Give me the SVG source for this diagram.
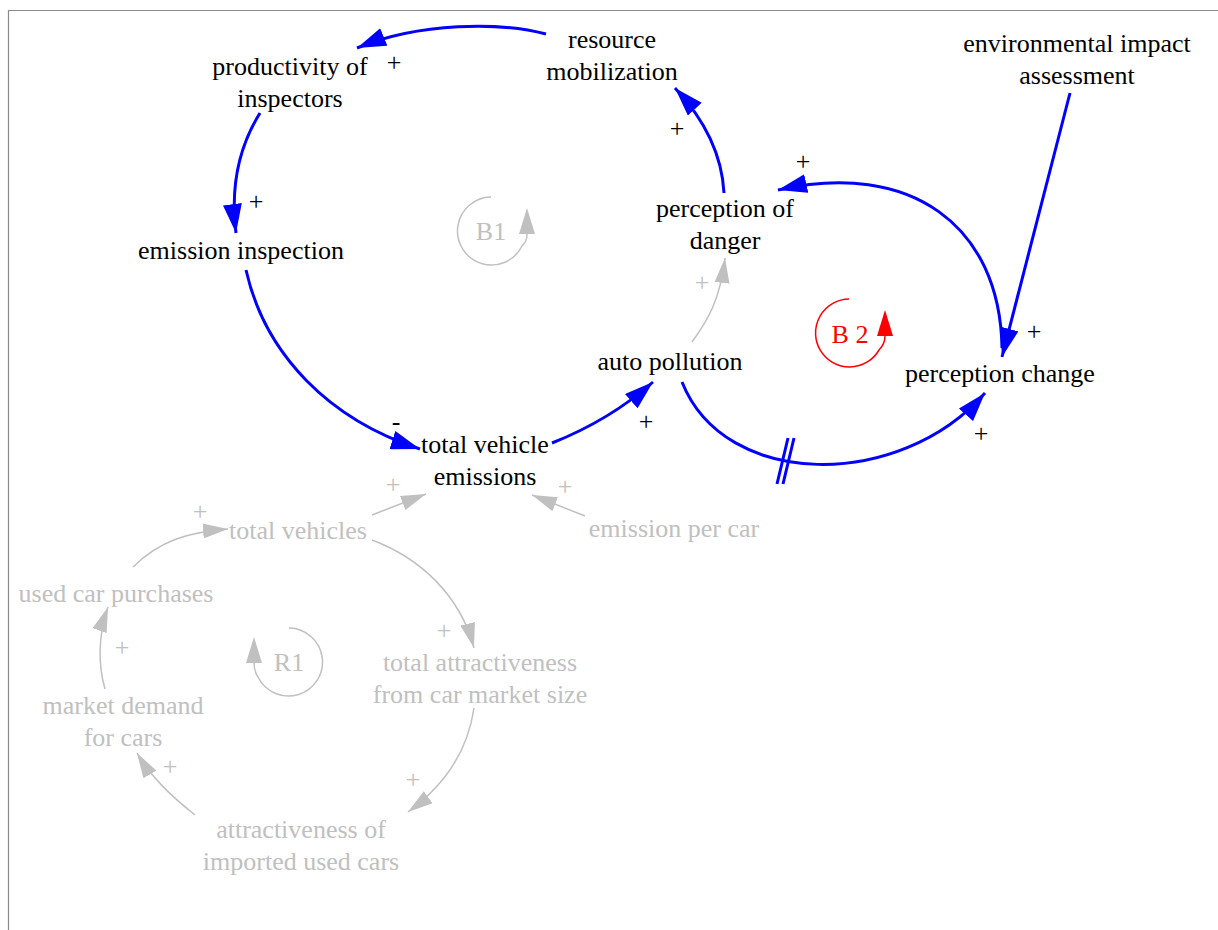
<svg xmlns="http://www.w3.org/2000/svg" width="1218" height="930" viewBox="0 0 1218 930">
  <style>
    text { font-family: "Liberation Serif", "DejaVu Serif", serif; font-size: 26px; text-anchor: middle; }
    .node text { fill: #000; }
    .dim text, text.dim { fill: #c0c0c0; }
    .pol { fill: #000; }
    .pol.dim { fill: #c0c0c0; }
    .link { fill: none; stroke: #0000ff; stroke-width: 3; marker-end: url(#arrowBlue); }
    .link.dim { stroke: #c0c0c0; stroke-width: 1.5; marker-end: url(#arrowGray); }
    .loop { fill: none; stroke: #c0c0c0; stroke-width: 1.5; }
    .loop.red { stroke: #ff0000; }
  </style>
  <defs>
    <marker id="arrowBlue" markerUnits="userSpaceOnUse" markerWidth="29" markerHeight="19" refX="29" refY="9.5" orient="auto">
      <path d="M0,0 L29,9.5 L0,19 Z" fill="#0000ff"/>
    </marker>
    <marker id="arrowGray" markerUnits="userSpaceOnUse" markerWidth="25" markerHeight="15" refX="25" refY="7.5" orient="auto">
      <path d="M0,0 L25,7.5 L0,15 Z" fill="#c0c0c0"/>
    </marker>
    <marker id="arrowLoopGray" markerUnits="userSpaceOnUse" markerWidth="26" markerHeight="16" refX="0" refY="8" orient="auto">
      <path d="M0,0 L26,8 L0,16 Z" fill="#c0c0c0"/>
    </marker>
    <marker id="arrowLoopRed" markerUnits="userSpaceOnUse" markerWidth="26" markerHeight="16" refX="0" refY="8" orient="auto">
      <path d="M0,0 L26,8 L0,16 Z" fill="#ff0000"/>
    </marker>
  </defs>

  <rect width="1218" height="930" fill="#ffffff"/>
  <!-- frame -->
  <path d="M8.5,930 V10.5 H1218" fill="none" stroke="#8a8a8a" stroke-width="1.2"/>

  <!-- connectors -->
  <g id="connectors">
    <path class="link" d="M546,34 C500,22 420,22 357,48"/>
    <path class="link" d="M260,113 C240,145 230,185 236,233"/>
    <path class="link" d="M246,270 C265,355 330,420 420,449"/>
    <path class="link" d="M552,443 Q610,420 653,382"/>
    <path class="link" d="M724,193 C722,155 705,120 675,88"/>
    <path class="link" d="M1002,348 C1000,225 910,160 778,190"/>
    <path class="link" d="M1070,93 L1002,357"/>
    <path class="link" d="M682,382 C725,490 900,490 985,393"/>
    <!-- delay mark -->
    <path d="M788,438 L777,484 M794,438 L783,484" stroke="#0000ff" stroke-width="3" fill="none"/>

    <path class="link dim" d="M692,342 C708,320 720,300 725,258"/>
    <path class="link dim" d="M372,515 L426,494"/>
    <path class="link dim" d="M585,516 L532,495"/>
    <path class="link dim" d="M133,567 C160,540 190,532 228,529"/>
    <path class="link dim" d="M372,540 C420,558 460,595 474,648"/>
    <path class="link dim" d="M474,708 C468,750 445,785 408,812"/>
    <path class="link dim" d="M195,815 C170,795 152,778 137,753"/>
    <path class="link dim" d="M105,689 C98,665 98,635 108,607"/>

    <!-- polarity signs -->
    <text class="pol" x="394" y="71">+</text>
    <text class="pol" x="256" y="210">+</text>
    <text class="pol" x="396" y="430">-</text>
    <text class="pol" x="646" y="430">+</text>
    <text class="pol" x="677" y="137">+</text>
    <text class="pol" x="803" y="170">+</text>
    <text class="pol" x="1034" y="340">+</text>
    <text class="pol" x="981" y="442">+</text>

    <text class="pol dim" x="702" y="291">+</text>
    <text class="pol dim" x="393" y="493">+</text>
    <text class="pol dim" x="565" y="495">+</text>
    <text class="pol dim" x="200" y="520">+</text>
    <text class="pol dim" x="444" y="639">+</text>
    <text class="pol dim" x="413" y="788">+</text>
    <text class="pol dim" x="170" y="775">+</text>
    <text class="pol dim" x="122" y="656">+</text>
  </g>

  <!-- loop markers -->
  <g id="loop-B1">
    <path class="loop" d="M491,197 A34,34 0 1 0 522,246 Q527,242 527,234" marker-end="url(#arrowLoopGray)"/>
    <text class="dim" x="491" y="240">B1</text>
  </g>
  <g id="loop-B2">
    <path class="loop red" d="M849,299 A34,34 0 1 0 879,350 Q885,344 885,336" marker-end="url(#arrowLoopRed)"/>
    <text x="850" y="343" fill="#ff0000">B 2</text>
  </g>
  <g id="loop-R1">
    <path class="loop" d="M289,628 A34,34 0 1 1 258,677 Q254,671 254,663" marker-end="url(#arrowLoopGray)"/>
    <text class="dim" x="289" y="671">R1</text>
  </g>

  <!-- variables -->
  <g id="resource-mobilization" class="node">
    <text x="612" y="48">resource<tspan x="612" dy="32">mobilization</tspan></text>
  </g>
  <g id="productivity-of-inspectors" class="node">
    <text x="290" y="75">productivity of<tspan x="290" dy="32">inspectors</tspan></text>
  </g>
  <g id="emission-inspection" class="node">
    <text x="241" y="259">emission inspection</text>
  </g>
  <g id="perception-of-danger" class="node">
    <text x="725" y="217">perception of<tspan x="725" dy="32">danger</tspan></text>
  </g>
  <g id="environmental-impact-assessment" class="node">
    <text x="1077" y="52">environmental impact<tspan x="1077" dy="32">assessment</tspan></text>
  </g>
  <g id="perception-change" class="node">
    <text x="1000" y="382">perception change</text>
  </g>
  <g id="auto-pollution" class="node">
    <text x="670" y="370">auto pollution</text>
  </g>
  <g id="total-vehicle-emissions" class="node">
    <text x="485" y="453">total vehicle<tspan x="485" dy="32">emissions</tspan></text>
  </g>
  <g id="total-vehicles" class="node dim">
    <text x="298" y="539">total vehicles</text>
  </g>
  <g id="emission-per-car" class="node dim">
    <text x="674" y="537">emission per car</text>
  </g>
  <g id="used-car-purchases" class="node dim">
    <text x="116" y="602">used car purchases</text>
  </g>
  <g id="market-demand-for-cars" class="node dim">
    <text x="123" y="714">market demand<tspan x="123" dy="32">for cars</tspan></text>
  </g>
  <g id="total-attractiveness" class="node dim">
    <text x="480" y="671">total attractiveness<tspan x="480" dy="32">from car market size</tspan></text>
  </g>
  <g id="attractiveness-of-imported" class="node dim">
    <text x="301" y="838">attractiveness of<tspan x="301" dy="32">imported used cars</tspan></text>
  </g>
</svg>
